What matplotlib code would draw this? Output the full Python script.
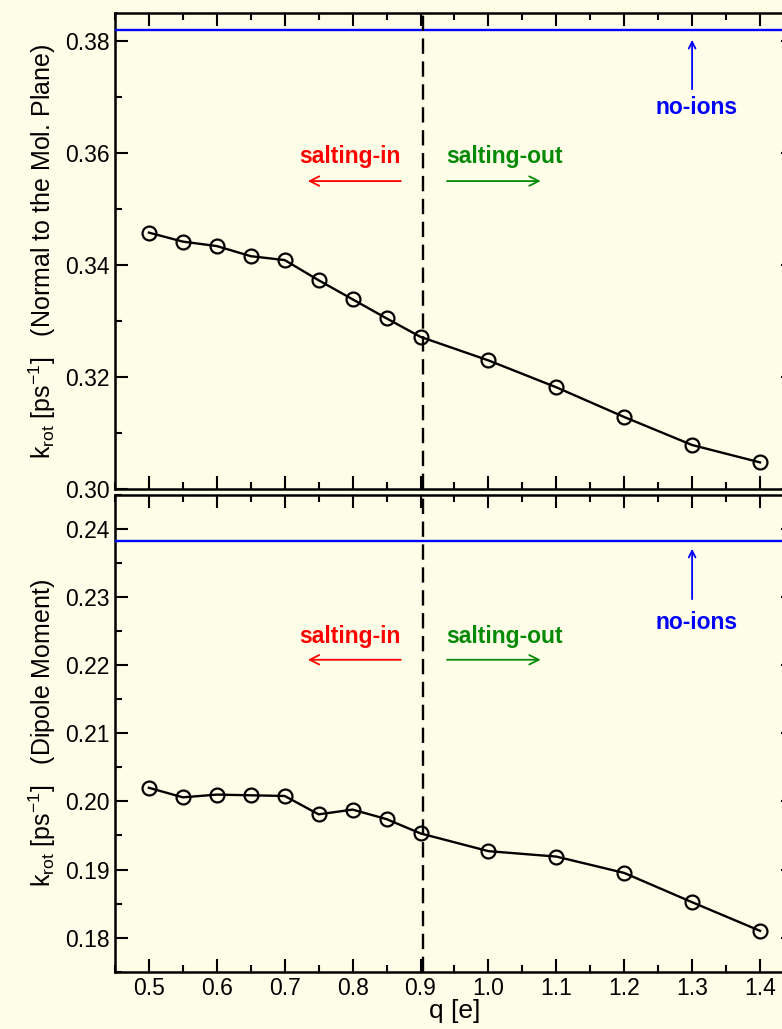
import numpy as np
import matplotlib
matplotlib.use("Agg")
import matplotlib.pyplot as plt
from matplotlib.ticker import MultipleLocator, FormatStrFormatter

plt.rcParams['font.family'] = ['Liberation Sans', 'DejaVu Sans']
plt.rcParams['mathtext.fontset'] = 'custom'
plt.rcParams['mathtext.rm'] = 'Liberation Sans'
plt.rcParams['mathtext.it'] = 'Liberation Sans:italic'

#---datos-------------------------------------------------------------

q = [0.5, 0.55, 0.6, 0.65, 0.7, 0.75, 0.8, 0.85, 0.9, 1.0, 1.1, 1.2, 1.3, 1.4]
k_normal = [0.3458, 0.3442, 0.3434, 0.3416, 0.3409, 0.3373, 0.3339, 0.3305,
            0.3272, 0.3230, 0.3182, 0.3129, 0.3079, 0.3048]
k_dipole = [0.2020, 0.2006, 0.2010, 0.2009, 0.2008, 0.1981, 0.1988, 0.1974,
            0.1953, 0.1927, 0.1919, 0.1895, 0.1852, 0.1810]
k_noions = [0.382, 0.2382]
q_cross = 0.904

ylabels = [r'k$_{\rm rot}$ [ps$^{-1}$]   (Normal to the Mol. Plane)',
           r'k$_{\rm rot}$ [ps$^{-1}$]   (Dipole Moment)']

bg = '#fefee8'

#---figura-------------------------------------------------------------

fig = plt.figure(figsize=(7.82, 10.29), dpi=100)
fig.patch.set_facecolor(bg)

ax1 = fig.add_axes([0.147, 0.5245, 0.8683, 0.4629])
ax2 = fig.add_axes([0.147, 0.0557, 0.8683, 0.4633])

series = [k_normal, k_dipole]
ylims = [(0.30, 0.385), (0.175, 0.245)]
ymaj = [0.02, 0.01]
# posiciones de textos y flechas (en unidades de datos)
txt_y = [0.3593, 0.2242]
arr_y = [0.3550, 0.2208]
noion_txt = [0.3681, 0.2263]
noion_arr = [(0.3714, 0.3802), (0.2297, 0.2371)]

for i, ax in enumerate([ax1, ax2]):
    ax.set_facecolor(bg)
    ax.plot(q, series[i], color='black', lw=1.7, marker='o', markersize=10,
            markerfacecolor='none', markeredgewidth=1.6, zorder=4)
    ax.axhline(k_noions[i], color='#0000ff', lw=1.7, zorder=3)
    ax.axvline(q_cross, color='black', lw=1.7, dashes=(6.5, 3.2), zorder=3)

    ax.set_xlim(0.45, 1.45)
    ax.set_ylim(*ylims[i])
    ax.xaxis.set_major_locator(MultipleLocator(0.1))
    ax.xaxis.set_minor_locator(MultipleLocator(0.05))
    ax.yaxis.set_major_locator(MultipleLocator(ymaj[i]))
    ax.yaxis.set_minor_locator(MultipleLocator(ymaj[i] / 2))
    ax.yaxis.set_major_formatter(FormatStrFormatter('%.2f'))
    ax.xaxis.set_major_formatter(FormatStrFormatter('%.1f'))
    ax.tick_params(which='both', direction='in', top=True, right=True,
                   width=1.5, labelsize=16.5, colors='black')
    ax.tick_params(which='major', length=9.5, pad=4)
    ax.tick_params(which='minor', length=4.8)
    for s in ax.spines.values():
        s.set_linewidth(1.8)

    ax.set_ylabel(ylabels[i], fontsize=18, labelpad=5)

    ax.text(0.796, txt_y[i], 'salting-in', color='#ff0000', fontsize=16.5,
            fontweight='bold', ha='center', va='center')
    ax.annotate('', xy=(0.734, arr_y[i]), xytext=(0.871, arr_y[i]),
                arrowprops=dict(arrowstyle='->', color='#ff0000', lw=1.3,
                                mutation_scale=17, shrinkA=0, shrinkB=0))
    ax.text(1.024, txt_y[i], 'salting-out', color='#068a06', fontsize=16.5,
            fontweight='bold', ha='center', va='center')
    ax.annotate('', xy=(1.077, arr_y[i]), xytext=(0.939, arr_y[i]),
                arrowprops=dict(arrowstyle='->', color='#068a06', lw=1.3,
                                mutation_scale=17, shrinkA=0, shrinkB=0))
    ax.text(1.307, noion_txt[i], 'no-ions', color='#0000ff', fontsize=16.5,
            fontweight='bold', ha='center', va='center')
    ax.annotate('', xy=(1.3, noion_arr[i][1]), xytext=(1.3, noion_arr[i][0]),
                arrowprops=dict(arrowstyle='->', color='#0000ff', lw=1.3,
                                mutation_scale=12, shrinkA=0, shrinkB=0))

ax1.tick_params(labelbottom=False)
ax2.set_xlabel('q [e]', fontsize=19, labelpad=-1)

fig.savefig('out.png', dpi=100, facecolor=bg)
